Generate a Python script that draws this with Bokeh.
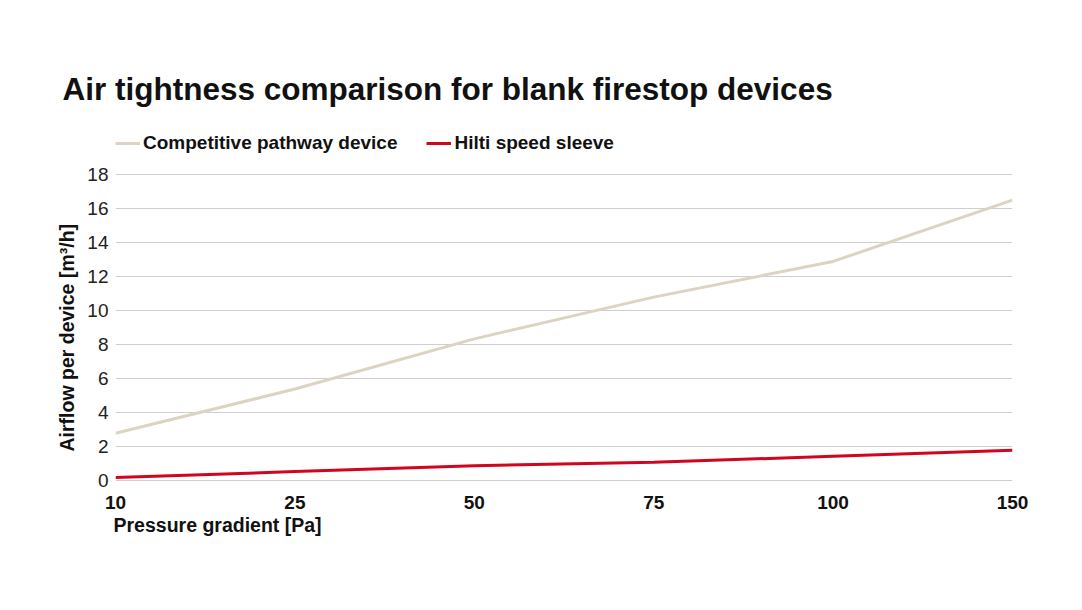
from bokeh.models import Range1d, FixedTicker, Legend, LegendItem, Title
from bokeh.plotting import figure
from bokeh.embed import file_html
from bokeh.resources import INLINE

# values
pressure_labels = ["10", "25", "50", "75", "100", "150"]
competitive = [2.8, 5.4, 8.35, 10.8, 12.9, 16.5]
hilti = [0.2, 0.55, 0.9, 1.1, 1.45, 1.8]
y_ticks = [0, 2, 4, 6, 8, 10, 12, 14, 16, 18]

FONT = "Liberation Sans"
BEIGE = "#ddd3c3"
RED = "#d2051e"
INK = "#111111"

xs = list(range(len(pressure_labels)))

# frame is taller than the gridded area so the legend can sit inside it, above the 18 line
p = figure(width=1066, height=594, output_backend="svg", toolbar_location=None,
           x_range=Range1d(0, len(pressure_labels) - 1), y_range=Range1d(-0.15, 21.18),
           min_border_left=115, min_border_right=54, min_border_top=120, min_border_bottom=111)
p.outline_line_color = None
p.background_fill_color = "white"
p.border_fill_color = "white"

p.title.text = "Air tightness comparison for blank firestop devices"
p.title.text_font = FONT
p.title.text_font_size = "31.5px"
p.title.text_font_style = "bold"
p.title.text_color = INK
p.title.align = "left"
p.title.offset = -53
p.title.standoff = 28

r_comp = p.line(xs, competitive, line_color=BEIGE, line_width=3)
r_hilti = p.line(xs, hilti, line_color=RED, line_width=3)

legend = Legend(items=[LegendItem(label="Competitive pathway device", renderers=[r_comp]),
                       LegendItem(label="Hilti speed sleeve", renderers=[r_hilti])],
                orientation="horizontal", location=(0, 329))
legend.label_text_font = FONT
legend.label_text_font_size = "19px"
legend.label_text_font_style = "bold"
legend.label_text_color = INK
legend.glyph_width = 25
legend.glyph_height = 20
legend.label_height = 20
legend.label_standoff = 3
legend.spacing = 29
legend.padding = 0
legend.margin = 0
legend.border_line_color = None
legend.background_fill_alpha = 0
p.add_layout(legend)

p.xaxis.ticker = FixedTicker(ticks=xs)
p.xaxis.major_label_overrides = {i: lab for i, lab in zip(xs, pressure_labels)}
p.xaxis.major_label_text_font = FONT
p.xaxis.major_label_text_font_size = "19px"
p.xaxis.major_label_text_font_style = "bold"
p.xaxis.major_label_text_color = INK
p.xaxis.major_label_standoff = 6

p.yaxis.ticker = FixedTicker(ticks=y_ticks)
p.yaxis.major_label_text_font = FONT
p.yaxis.major_label_text_font_size = "19px"
p.yaxis.major_label_text_color = "#222222"
p.yaxis.major_label_standoff = 1

for ax in (p.xaxis, p.yaxis):
    ax.axis_line_color = None
    ax.major_tick_line_color = None
    ax.minor_tick_line_color = None

y_title = Title(text="Airflow per device [m³/h]", align="left", text_font=FONT,
                text_font_size="19.5px", text_font_style="bold", text_color=INK,
                offset=32, standoff=14)
p.add_layout(y_title, "left")

x_title = Title(text="Pressure gradient [Pa]", align="left", text_font=FONT,
                text_font_size="19.5px", text_font_style="bold", text_color=INK,
                offset=-2, standoff=0)
p.add_layout(x_title, "below")

p.xgrid.grid_line_color = None
p.ygrid.ticker = FixedTicker(ticks=y_ticks)
p.ygrid.grid_line_color = "#cfcfcf"
p.ygrid.grid_line_width = 1

open("out.html", "w").write(file_html(p, INLINE))
